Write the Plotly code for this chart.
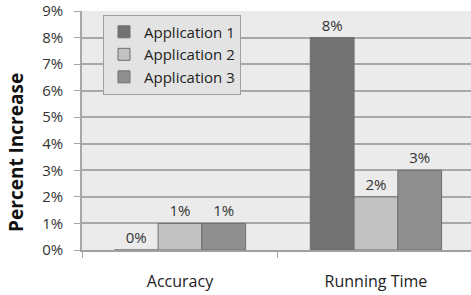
import plotly.graph_objects as go

categories = ["Accuracy", "Running Time"]
series_names = ["Application 1", "Application 2", "Application 3"]
app1 = [0, 8]
app2 = [1, 2]
app3 = [1, 3]
y_ticks = [0, 1, 2, 3, 4, 5, 6, 7, 8, 9]

FONT = "Open Sans"
colors = ["#727272", "#c2c2c2", "#8f8f8f"]
fig = go.Figure()
for name, vals, c in zip(series_names, [app1, app2, app3], colors):
    fig.add_trace(go.Bar(
        x=categories, y=vals, name=name,
        marker=dict(color=c, line=dict(color="#6e6e6e", width=1)),
        text=[f"{v}%" for v in vals], textposition="outside",
        textfont=dict(size=15, color="#333333", family=FONT),
        cliponaxis=False,
    ))

fig.add_annotation(text="<b>Percent Increase</b>", textangle=-90,
                   xref="paper", yref="paper", x=-0.17, y=0.41,
                   xanchor="center", yanchor="middle",
                   showarrow=False, font=dict(size=19, color="#111111", family=FONT))

fig.update_layout(
    width=471, height=295,
    margin=dict(l=82, r=0, t=11, b=45),
    paper_bgcolor="white", plot_bgcolor="#ebebeb",
    barmode="group", bargap=0.33, bargroupgap=0,
    font=dict(family=FONT, color="#333333"),
    showlegend=True,
    legend=dict(x=0.054, y=0.985, xanchor="left", yanchor="top",
                bgcolor="#e3e3e3", bordercolor="#a0a0a0", borderwidth=1,
                font=dict(size=15, color="#222222", family=FONT), tracegroupgap=0,
                itemwidth=30),
    xaxis=dict(range=[-0.5, 1.485], tickson="boundaries", ticks="outside",
               ticklen=6, tickcolor="#a0a0a0", showline=True, linecolor="#a0a0a0",
               linewidth=1.5, showgrid=False, ticklabelstandoff=16,
               tickfont=dict(size=16, color="#222222", family=FONT)),
    yaxis=dict(range=[0, 9.0], tickvals=y_ticks, ticktext=[f"{t}%" for t in y_ticks],
               ticks="outside", ticklen=6, tickcolor="#a8a8a8", showline=True,
               linecolor="#a8a8a8", linewidth=1.5, gridcolor="#a8a8a8", gridwidth=1.5,
               ticklabelstandoff=8,
               tickfont=dict(size=15, color="#333333", family=FONT), zeroline=False),
)
fig.write_html("out.html", config={"displayModeBar": False},
               post_script="document.body.style.margin='0px';document.body.style.overflow='hidden';")
